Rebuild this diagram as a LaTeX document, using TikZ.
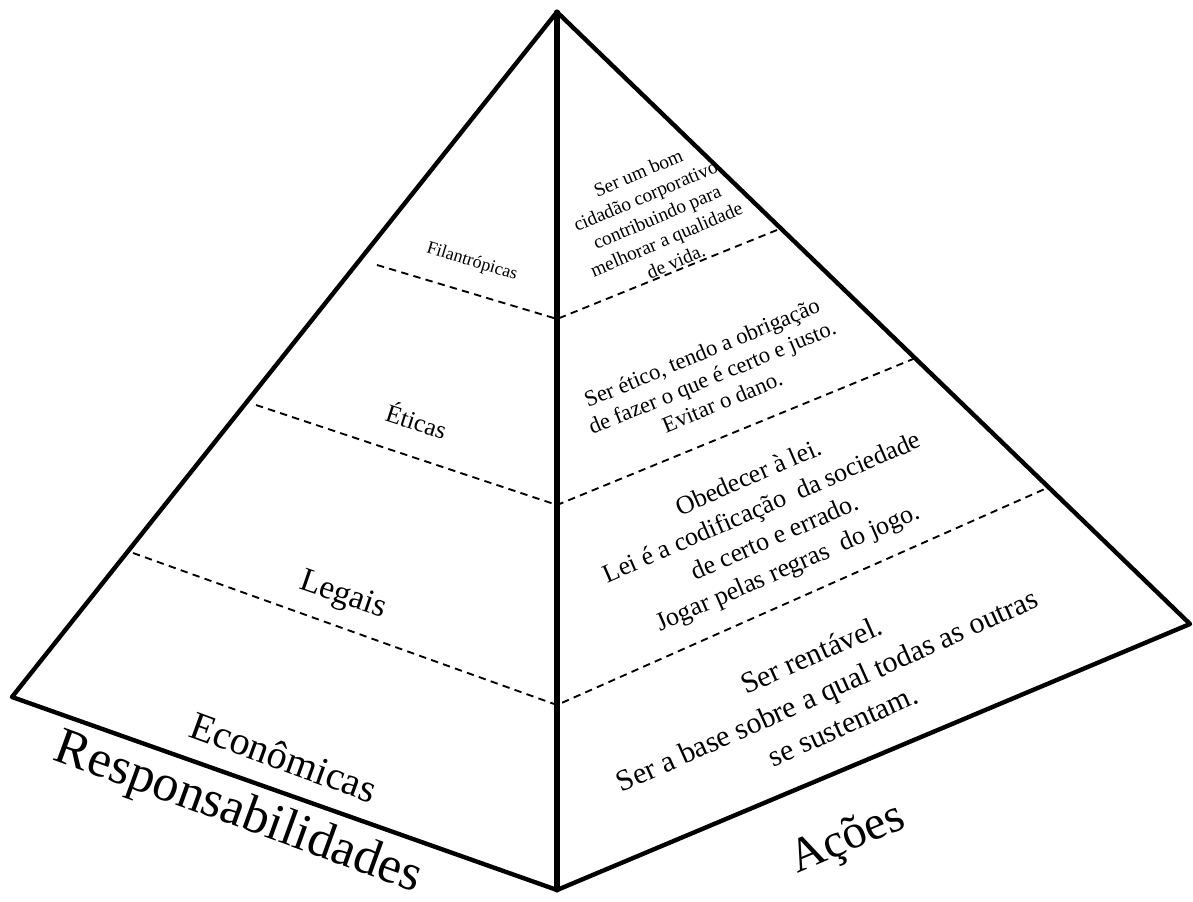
\documentclass[tikz,border=0pt]{standalone}
\usepackage{fontspec}
\setmainfont{Liberation Serif}
\begin{document}
\begin{tikzpicture}[x=0.75pt,y=-0.75pt,
  edge/.style={line width=3.3pt, line join=round, line cap=round},
  spine/.style={line width=3.8pt, line cap=round},
  tier/.style={line width=1.4pt, dash pattern=on 5.5pt off 4pt},
  lbl/.style={inner sep=0pt, align=center}]
\path[use as bounding box, fill=white] (0,0) rectangle (1193,902);

% pyramid corners
\coordinate (apex) at (557,12);
\coordinate (left) at (12,697);
\coordinate (front) at (557,890);
\coordinate (right) at (1190,624);

% tier boundaries on the left face
\coordinate (l1) at (377,265);
\coordinate (l2) at (256,405);
\coordinate (l3) at (133,553);
% tier boundaries on the spine
\coordinate (m1) at (557,319);
\coordinate (m2) at (557,505);
\coordinate (m3) at (557,705);
% tier boundaries on the right face
\coordinate (r1) at (777,230);
\coordinate (r2) at (918,357);
\coordinate (r3) at (1047,488);

% dashed tier lines
\draw[tier] (l1) -- (m1) -- (r1);
\draw[tier] (l2) -- (m2) -- (r2);
\draw[tier] (l3) -- (m3) -- (r3);

% outline and spine
\draw[edge] (apex) -- (left) -- (front) -- (right) -- cycle;
\draw[spine] (apex) -- (front);

% responsibilities (left face)
\node[lbl, rotate=-17, font=\fontsize{13.5}{15}\selectfont] (filan) at (472,262) {Filantrópicas};
\node[lbl, rotate=-18, font=\fontsize{19}{22}\selectfont] (etic) at (417,420) {Éticas};
\node[lbl, rotate=-19, font=\fontsize{25}{29}\selectfont] (leg) at (343,596) {Legais};
\node[lbl, rotate=-20, font=\fontsize{30}{34}\selectfont] (econ) at (284,757) {Econômicas};
\node[lbl, rotate=-20, font=\fontsize{39}{46}\selectfont] (resp) at (238,814) {Responsabilidades};

% actions (right face)
\node[lbl, rotate=23, font=\fontsize{14.5}{18}\selectfont] (acao1) at (657,217)
  {Ser um bom\\cidadão corporativo,\\contribuindo para\\melhorar a qualidade\\de vida.};
\node[lbl, rotate=22.5, font=\fontsize{17}{20}\selectfont] (acao2) at (712,377)
  {Ser ético, tendo a obrigação\\de fazer o que é certo e justo.\\Evitar o dano.};
\node[lbl, rotate=23.5, font=\fontsize{19.5}{24.5}\selectfont] (acao3) at (769,524)
  {Obedecer à lei.\\Lei é a codificação\ \ da sociedade\\de certo e errado.\\Jogar pelas regras\ \ do jogo.};
\node[lbl, rotate=24, font=\fontsize{22.5}{29}\selectfont] (acao4) at (827,690)
  {Ser rentável.\\Ser a base sobre a qual todas as outras\\se sustentam.};
\node[lbl, rotate=23, font=\fontsize{36}{42}\selectfont] (acoes) at (848,840) {Ações};
\end{tikzpicture}
\end{document}
